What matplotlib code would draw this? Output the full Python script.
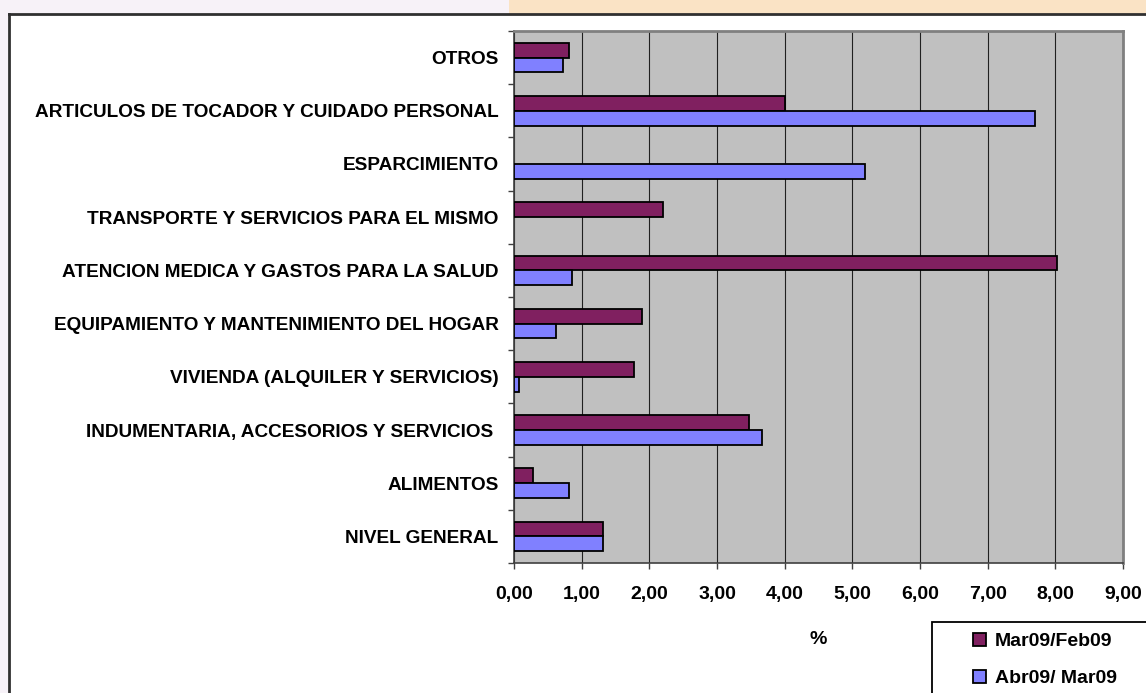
import numpy as np
import matplotlib
matplotlib.use("Agg")
import matplotlib.pyplot as plt
from matplotlib.patches import Rectangle
from matplotlib.lines import Line2D

# Data (bottom to top, as drawn)
categories = [
    "NIVEL GENERAL",
    "ALIMENTOS",
    "INDUMENTARIA, ACCESORIOS Y SERVICIOS ",
    "VIVIENDA (ALQUILER Y SERVICIOS)",
    "EQUIPAMIENTO Y MANTENIMIENTO DEL HOGAR",
    "ATENCION MEDICA Y GASTOS PARA LA SALUD",
    "TRANSPORTE Y SERVICIOS PARA EL MISMO",
    "ESPARCIMIENTO",
    "ARTICULOS DE TOCADOR Y CUIDADO PERSONAL",
    "OTROS",
]
mar_feb = [1.32, 0.28, 3.48, 1.77, 1.89, 8.03, 2.20, np.nan, 4.00, 0.81]
abr_mar = [1.32, 0.82, 3.66, 0.07, 0.62, 0.86, np.nan, 5.18, 7.70, 0.72]
series_names = ["Mar09/Feb09", "Abr09/ Mar09"]
xtick_values = [0, 1, 2, 3, 4, 5, 6, 7, 8, 9]
xtick_labels = ["0,00", "1,00", "2,00", "3,00", "4,00", "5,00", "6,00", "7,00", "8,00", "9,00"]

maroon = "#802060"
blue = "#8080FF"

plt.rcParams["font.family"] = ["Liberation Sans", "DejaVu Sans"]
plt.rcParams["font.weight"] = "bold"

W, H = 1146, 693
fig = plt.figure(figsize=(W / 100, H / 100), dpi=100)
fig.patch.set_facecolor("white")

# page background strips and frame
fig.patches.append(Rectangle((0, 0), 8 / W, 1, transform=fig.transFigure,
                             facecolor="#F7F2F8", edgecolor="none", zorder=0))
fig.patches.append(Rectangle((0, 1 - 14 / H), 509 / W, 14 / H, transform=fig.transFigure,
                             facecolor="#F7F2F8", edgecolor="none", zorder=0))
fig.patches.append(Rectangle((509 / W, 1 - 14 / H), 1 - 509 / W, 14 / H, transform=fig.transFigure,
                             facecolor="#FAE3C5", edgecolor="none", zorder=0))
fig.lines.append(Line2D([8.5 / W, 8.5 / W], [0, 1 - 14 / H], transform=fig.transFigure,
                        color="#303030", lw=2))
fig.lines.append(Line2D([8.5 / W, 1], [1 - 14 / H, 1 - 14 / H], transform=fig.transFigure,
                        color="#303030", lw=2))

ax = fig.add_axes([514 / W, 1 - 563 / H, (1123 - 514) / W, (563 - 31) / H])
ax.set_facecolor("#C0C0C0")

y = np.arange(len(categories))
h = 0.28
ax.barh(y + h / 2, mar_feb, height=h, color=maroon, edgecolor="black", lw=1.3,
        label=series_names[0], zorder=3)
ax.barh(y - h / 2, abr_mar, height=h, color=blue, edgecolor="black", lw=1.3,
        label=series_names[1], zorder=3)

ax.set_xlim(0, 9)
ax.set_ylim(-0.5, len(categories) - 0.5)
ax.set_xticks(xtick_values)
ax.set_xticklabels(xtick_labels, fontsize=14, fontweight="bold")
ax.set_yticks(y)
ax.set_yticklabels(categories, fontsize=13.7, fontweight="bold")
ax.set_yticks(np.arange(len(categories) + 1) - 0.5, minor=True)
ax.tick_params(axis="y", which="major", length=0, pad=11)
ax.tick_params(axis="y", which="minor", length=4.5, width=1, color="#404040", direction="out")
ax.tick_params(axis="x", length=4.5, width=1, color="#404040", direction="out", pad=12)
ax.grid(axis="x", color="#202020", lw=0.8, zorder=1)
ax.set_axisbelow(True)

for side in ["left", "bottom"]:
    ax.spines[side].set_color("#404040")
    ax.spines[side].set_linewidth(1.2)
for side in ["top", "right"]:
    ax.spines[side].set_color("#808080")
    ax.spines[side].set_linewidth(2)

ax.set_xlabel("%", fontsize=14, fontweight="bold", labelpad=20)

# legend box runs off the page edge, as in the original
fig.patches.append(Rectangle((932 / W, -0.05), 0.2, 1 - 622 / H + 0.05, transform=fig.transFigure,
                             facecolor="white", edgecolor="black", lw=1.3, zorder=2))
leg = fig.legend(loc="upper left", bbox_to_anchor=(962 / W, 1 - 622 / H),
                 fontsize=14, frameon=False,
                 handlelength=0.7, handleheight=0.7, handletextpad=0.45,
                 labelspacing=1.0, borderpad=0.55, borderaxespad=0)
for t in leg.get_texts():
    t.set_fontweight("bold")

fig.savefig("out.png", dpi=100)
